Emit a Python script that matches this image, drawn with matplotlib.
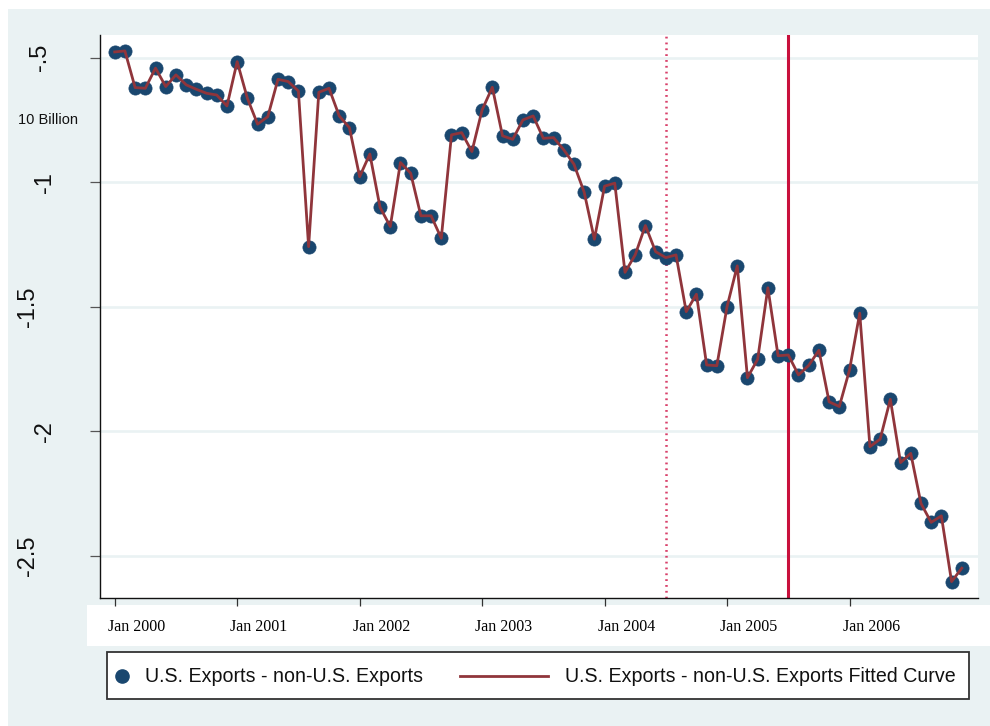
import numpy as np
import matplotlib
matplotlib.use("Agg")
import matplotlib.pyplot as plt
from matplotlib.patches import Rectangle
from matplotlib.lines import Line2D
import matplotlib.transforms as mtransforms

plt.rcParams['lines.scale_dashes'] = False

# Monthly series, Jan 2000 .. Dec 2006 (units: 10 billion)
month_index = np.arange(84)
net_exports = [
    -0.477, -0.473, -0.620, -0.623, -0.542, -0.616, -0.569, -0.609, -0.627, -0.643, -0.650, -0.694,
    -0.516, -0.663, -0.767, -0.737, -0.587, -0.596, -0.634, -1.259, -0.639, -0.623, -0.734, -0.781,
    -0.978, -0.887, -1.101, -1.178, -0.921, -0.964, -1.135, -1.135, -1.225, -0.810, -0.801, -0.877,
    -0.710, -0.619, -0.814, -0.828, -0.750, -0.734, -0.824, -0.821, -0.870, -0.928, -1.040, -1.229,
    -1.016, -1.004, -1.362, -1.292, -1.174, -1.279, -1.303, -1.292, -1.520, -1.450, -1.734, -1.737,
    -1.500, -1.336, -1.785, -1.711, -1.424, -1.697, -1.694, -1.774, -1.736, -1.675, -1.882, -1.901,
    -1.754, -1.526, -2.062, -2.032, -1.872, -2.126, -2.089, -2.290, -2.366, -2.340, -2.604, -2.550,
]
tick_months = [0, 12, 24, 36, 48, 60, 72]
tick_labels = ["Jan 2000", "Jan 2001", "Jan 2002", "Jan 2003",
               "Jan 2004", "Jan 2005", "Jan 2006"]
y_ticks = [-0.5, -1.0, -1.5, -2.0, -2.5]
y_tick_labels = ["-.5", "-1", "-1.5", "-2", "-2.5"]
dotted_break = 54   # Jul 2004
solid_break = 66    # Jul 2005
series_label = "U.S. Exports - non-U.S. Exports"
fit_label = "U.S. Exports - non-U.S. Exports Fitted Curve"
y_title = "10 Billion"

NAVY = '#1a476f'
MAROON = '#90353b'
BG = '#eaf2f3'
RED = '#c8103c'
SANS = ['Liberation Sans', 'DejaVu Sans']
SERIF = ['Liberation Serif', 'DejaVu Serif']

W, H = 990, 726
fig = plt.figure(figsize=(W / 100, H / 100), dpi=100)
fig.patch.set_facecolor('white')


def box(x0, y0, x1, y1):
    """Pixel box (top-left origin) -> figure fraction [left, bottom, width, height]."""
    return [x0 / W, 1 - y1 / H, (x1 - x0) / W, (y1 - y0) / H]


def fx(x):
    return x / W


def fy(y):
    return 1 - y / H


# outer graph region and the white strip behind the date labels
b = box(8, 9, W, H)
fig.patches.append(Rectangle((b[0], b[1]), b[2], b[3], transform=fig.transFigure,
                             facecolor=BG, edgecolor='none', zorder=-10))
b = box(87, 605, W, 646)
fig.patches.append(Rectangle((b[0], b[1]), b[2], b[3], transform=fig.transFigure,
                             facecolor='white', edgecolor='none', zorder=-9))

ax = fig.add_axes(box(100, 35, 977.7, 598.3))
ax.set_facecolor('white')
ax.set_xlim(-1.44, 84.56)
ax.set_ylim(-2.671, -0.409)

# horizontal grid
ax.set_yticks(y_ticks)
ax.yaxis.grid(True, color=BG, lw=1.9)
ax.set_axisbelow(True)

for s in ('top', 'right'):
    ax.spines[s].set_visible(False)
for s in ('left', 'bottom'):
    ax.spines[s].set_color('#111111')
    ax.spines[s].set_linewidth(1.0)

# reference lines
ax.axvline(dotted_break, color='#d8406a', lw=1.8, dashes=(1.3, 2.9), zorder=1.5)
ax.axvline(solid_break, color=RED, lw=2.2, zorder=1.5)

# observations and connecting fitted curve
ax.plot(month_index, net_exports, linestyle='none', marker='o', markersize=9.5,
        markerfacecolor=NAVY, markeredgecolor=NAVY, markeredgewidth=0.5, zorder=3)
ax.plot(month_index, net_exports, color=MAROON, lw=2.0, zorder=4)

# x axis: dates in a serif face, starting just left of each tick
ax.set_xticks(tick_months)
ax.set_xticklabels(tick_labels, fontsize=11.5, family=SERIF, ha='left')
ax.tick_params(axis='x', length=5.5, width=0.9, color='#333333', pad=9.5)
shift = mtransforms.ScaledTranslation(-7 / 100, 0, fig.dpi_scale_trans)
for lab in ax.get_xticklabels():
    lab.set_transform(lab.get_transform() + shift)

# y axis: rotated value labels
ax.tick_params(axis='y', length=7.2, width=0.9, color='#555555', labelleft=False)
ylab_trans = mtransforms.blended_transform_factory(fig.transFigure, ax.transData)
ylab_x = {"-.5": 40, "-1": 45, "-1.5": 28, "-2": 45, "-2.5": 28}
for v, t in zip(y_ticks, y_tick_labels):
    fig.text(fx(ylab_x[t]), v, t, transform=ylab_trans, rotation=90,
             ha='center', va='center', fontsize=17, family=SANS, color='#111111')

fig.text(fx(47.5), fy(120.5), y_title, ha='center', va='center',
         fontsize=10.5, family=SANS, color='#111111')

# legend
b = box(107, 652, 969, 699)
fig.patches.append(Rectangle((b[0], b[1]), b[2], b[3], transform=fig.transFigure,
                             facecolor='white', edgecolor='#333333', lw=1.3, zorder=5))
ly = fy(676)
fig.lines.append(Line2D([fx(122)], [ly], transform=fig.transFigure, linestyle='none',
                        marker='o', markersize=9.5, markerfacecolor=NAVY,
                        markeredgecolor=NAVY, zorder=6))
fig.text(fx(145), ly, series_label, ha='left', va='center', fontsize=14.1,
         family=SANS, color='#111111', zorder=6)
fig.lines.append(Line2D([fx(460), fx(548)], [ly, ly], transform=fig.transFigure,
                        color=MAROON, lw=2.0, zorder=6))
fig.text(fx(565), ly, fit_label, ha='left', va='center', fontsize=14.1,
         family=SANS, color='#111111', zorder=6)

fig.savefig('out.png', dpi=100)
